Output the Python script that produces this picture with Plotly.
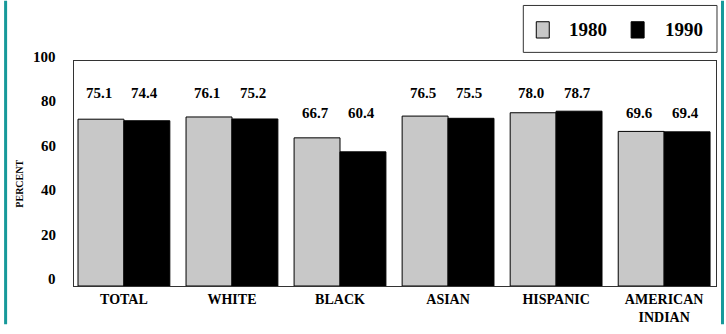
import plotly.graph_objects as go

# Population groups and the share (percent) for each census year
categories = ["TOTAL", "WHITE", "BLACK", "ASIAN", "HISPANIC", "AMERICAN<br>INDIAN"]
years = ["1980", "1990"]
values_1980 = [75.1, 76.1, 66.7, 76.5, 78.0, 69.6]
values_1990 = [74.4, 75.2, 60.4, 75.5, 78.7, 69.4]
y_ticks = [0, 20, 40, 60, 80, 100]

# Figure geometry (pixels)
W, H = 726, 334
ML, MR, MT, MB = 74, 9, 61, 38
PW, PH = W - ML - MR, H - MT - MB
X_RANGE = [-0.462, 5.48]
Y_RANGE = [0, 101.3]
BARGAP = 0.15

FILL = ["#c8c8c8", "#000000"]
SERIF = "Liberation Serif"
TEAL = "#17999a"


def px_x(x):
    return (x - ML) / PW


def px_y(y):
    return (H - MB - y) / PH


fig = go.Figure()
for name, vals, color in zip(years, [values_1980, values_1990], FILL):
    fig.add_trace(go.Bar(
        x=list(range(len(categories))), y=vals, name=name,
        marker=dict(color=color, line=dict(color="#000000", width=1)),
        showlegend=False,
    ))

# Value labels above each pair of bars
slot_px = PW / (X_RANGE[1] - X_RANGE[0])
bar_px = slot_px * (1 - BARGAP) / 2
annotations = []
for i, (a, b) in enumerate(zip(values_1980, values_1990)):
    row = 87 if max(a, b) >= 72 else 78
    for v, sgn in ((a, -1), (b, 1)):
        annotations.append(dict(
            x=i, y=row, xref="x", yref="y", text=f"<b>{v:.1f}</b>",
            showarrow=False, xshift=sgn * bar_px / 2 - 2, yanchor="middle",
            font=dict(family=SERIF, size=15, color="#000"),
        ))

# y tick labels (drawn slightly raised above their gridline positions)
for t in y_ticks:
    annotations.append(dict(
        x=px_x(58), y=t, xref="paper", yref="y", text=f"<b>{t}</b>",
        showarrow=False, xanchor="right", yanchor="middle", yshift=7,
        font=dict(family=SERIF, size=15, color="#000"),
    ))

# axis title
annotations.append(dict(
    x=px_x(19), y=px_y(189), xref="paper", yref="paper", text="<b>PERCENT</b>",
    textangle=-90, showarrow=False, xanchor="center", yanchor="middle",
    font=dict(family=SERIF, size=10, color="#000"),
))

# legend
shapes = [
    dict(type="rect", xref="paper", yref="paper",
         x0=px_x(524), x1=px_x(718), y0=px_y(52), y1=px_y(3),
         line=dict(color="#333", width=1), fillcolor="white"),
]
sw_x = [537, 632]
tx_x = [568, 664]
for name, color, sx, tx in zip(years, FILL, sw_x, tx_x):
    shapes.append(dict(type="rect", xref="paper", yref="paper",
                       x0=px_x(sx), x1=px_x(sx + 13), y0=px_y(37), y1=px_y(20),
                       line=dict(color="#000", width=1), fillcolor=color))
    annotations.append(dict(x=px_x(tx), y=px_y(28), xref="paper", yref="paper",
                            text=f"<b>{name}</b>", showarrow=False,
                            xanchor="left", yanchor="middle",
                            font=dict(family=SERIF, size=19, color="#000")))

# teal page border on the sides
for bx in (5.5, 723.5):
    shapes.append(dict(type="line", xref="paper", yref="paper",
                       x0=px_x(bx), x1=px_x(bx), y0=px_y(H + 2), y1=px_y(-2),
                       line=dict(color=TEAL, width=3)))

fig.update_layout(
    width=W, height=H,
    margin=dict(l=ML, r=MR, t=MT, b=MB, pad=0),
    paper_bgcolor="white", plot_bgcolor="white",
    barmode="group", bargap=BARGAP, bargroupgap=0,
    xaxis=dict(range=X_RANGE, tickvals=list(range(len(categories))),
               ticktext=[f"<b>{c}</b>" for c in categories],
               showgrid=False, zeroline=False, ticks="",
               showline=True, linecolor="#333", linewidth=1, mirror=True,
               tickfont=dict(family=SERIF, size=14, color="#000")),
    yaxis=dict(range=Y_RANGE, showticklabels=False, showgrid=False,
               zeroline=False, ticks="",
               showline=True, linecolor="#333", linewidth=1, mirror=True),
    annotations=annotations, shapes=shapes,
)

fig.write_html("out.html")
